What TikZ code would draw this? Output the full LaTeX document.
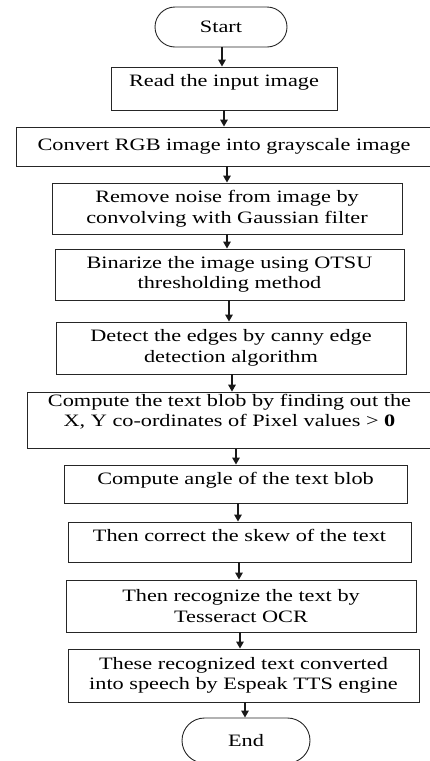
\documentclass[tikz,border=0pt]{standalone}
\usepackage{fontspec}
\setmainfont{Liberation Serif}[FakeStretch=1.28]
\usepackage{tikz}
\usetikzlibrary{positioning, shapes.misc, arrows.meta, calc}

\tikzset{
  stepbox/.style={draw=black!85, line width=0.9pt, align=center, inner sep=2pt,
    font=\fontsize{17.4}{20.5}\selectfont},
  terminal/.style={rounded rectangle, draw=black!85, line width=0.9pt, inner sep=2pt,
    font=\fontsize{17.4}{20.5}\selectfont},
  flow/.style={-{Triangle[width=7.5pt,length=7pt]}, line width=1.4pt, black!90}
}

\begin{document}
\begin{tikzpicture}[x=1pt, y=-1pt]
  \useasboundingbox (0,0) rectangle (429,761);

  \node[terminal, minimum width=136pt, minimum height=40pt](start) at (221,27) {Start};

  \node[stepbox, minimum width=226pt, minimum height=43pt, text depth=17pt](read) at (224,88.5) {Read the input image};
  \node[stepbox, minimum width=416pt, minimum height=39pt](gray) at (224,146.5) {Convert RGB image into grayscale image};
  \node[stepbox, minimum width=350pt, minimum height=51pt](denoise) at (227,208.5) {Remove noise from image by\\convolving with Gaussian filter};
  \node[stepbox, minimum width=349pt, minimum height=51pt](binar) at (229.5,274.5) {Binarize the image using OTSU\\thresholding method};
  \node[stepbox, minimum width=350pt, minimum height=52pt](edges) at (231,348) {Detect the edges by canny edge\\detection algorithm};
  \node[stepbox, minimum width=405pt, minimum height=53pt, text depth=20pt](blob) at (229.5,420.5) {Compute the text blob by finding out the\\X, Y co-ordinates of Pixel values > \textbf{0}};
  \node[stepbox, minimum width=343pt, minimum height=38pt, text depth=11.8pt](angle) at (235.5,484) {Compute angle of the text blob};
  \node[stepbox, minimum width=343pt, minimum height=40pt, text depth=13.8pt](deskew) at (239.5,542) {Then correct the skew of the text};
  \node[stepbox, minimum width=350pt, minimum height=52pt](ocr) at (241,606) {Then recognize the text by\\Tesseract OCR};
  \node[stepbox, minimum width=351pt, minimum height=53pt](tts) at (243.5,675.5) {These recognized text converted\\into speech by Espeak TTS engine};

  \node[terminal, minimum width=132pt, minimum height=45pt](end) at (246,740.5) {End};

  % vertical connectors, each at its own x
  \foreach \a/\b/\x in {start/read/222, read/gray/224, gray/denoise/227, denoise/binar/227,
      binar/edges/229, edges/blob/232, blob/angle/236, angle/deskew/238,
      deskew/ocr/239, ocr/tts/240, tts/end/245}
    \draw[flow] (\a.south -| \x,0) -- (\b.north -| \x,0);
\end{tikzpicture}
\end{document}
